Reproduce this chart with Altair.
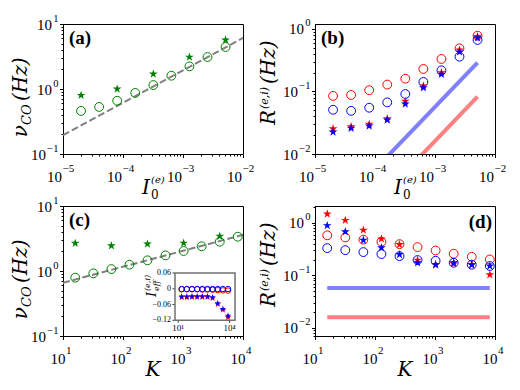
import math
import altair as alt
import pandas as pd

# ---------------- data ----------------
I0 = [2e-5, 4e-5, 8e-5, 1.6e-4, 3.2e-4, 6.4e-4, 1.28e-3, 2.56e-3, 5.12e-3]
a_circles = [0.46, 0.53, 0.66, 0.87, 1.15, 1.60, 2.23, 3.10, 4.43]
a_star_x = [2e-5, 8e-5, 3.2e-4, 1.28e-3, 5.12e-3]
a_stars = [0.80, 1.00, 1.70, 3.10, 5.70]
a_fit_x = [1e-5, 1e-2]
a_fit_y = [0.195, 6.1]

b_red_circles = [0.085, 0.088, 0.105, 0.129, 0.160, 0.229, 0.331, 0.490, 0.780]
b_blue_circles = [0.051, 0.049, 0.055, 0.067, 0.091, 0.142, 0.218, 0.360, 0.667]
b_red_stars = [0.0254, 0.0274, 0.0299, 0.0367, 0.0697, 0.1225, 0.200, 0.460, 0.760]
b_blue_stars = [0.0225, 0.0258, 0.0280, 0.0350, 0.0630, 0.115, 0.188, 0.430, 0.720]
b_line_x = [2e-5, 5.12e-3]
b_blue_line = [0.00114, 0.290]
b_red_line = [0.00032, 0.0826]

K = [16, 32, 64, 128, 256, 512, 1024, 2048, 4096, 8192]
c_circles = [0.79, 0.92, 1.07, 1.25, 1.46, 1.74, 2.03, 2.40, 2.82, 3.37]
c_star_K = [16, 64, 256, 1024, 4096]
c_stars = [2.67, 2.45, 2.60, 2.69, 3.42]
c_fit_x = [10, 1e4]
c_fit_y = [0.66, 3.6]

ins_blue_circles = [-0.001, -0.001, -0.001, -0.001, -0.001, -0.001, -0.001, -0.001, -0.001, -0.001]
ins_red_circles = [-0.002, -0.002, -0.002, -0.002, -0.003, -0.003, -0.004, -0.005, -0.006, -0.007]
ins_blue_stars = [-0.030, -0.030, -0.029, -0.029, -0.029, -0.029, -0.033, -0.055, -0.077, -0.103]
ins_red_stars = [-0.033, -0.033, -0.032, -0.032, -0.032, -0.032, -0.036, -0.059, -0.081, -0.109]
ins_y_ticks = [0.06, 0, -0.06, -0.12]
ins_y_labels = ["0.06", "0", "\u22120.06", "\u22120.12"]
ins_x_ticks = [10, 10000]
ins_x_labels = ["10\u00b9", "10\u2074"]

d_red_circles = [0.58, 0.53, 0.48, 0.436, 0.394, 0.346, 0.298, 0.258, 0.226, 0.201]
d_blue_circles = [0.331, 0.303, 0.278, 0.255, 0.233, 0.196, 0.190, 0.174, 0.160, 0.151]
d_red_stars = [1.48, 1.12, 0.73, 0.497, 0.388, 0.196, 0.160, 0.167, 0.160, 0.103]
d_blue_stars = [0.89, 0.68, 0.469, 0.336, 0.250, 0.174, 0.160, 0.174, 0.160, 0.151]
d_line_x = [16, 8192]
d_blue_line = [0.0575, 0.0575]
d_red_line = [0.016, 0.016]

# ---------------- styling helpers ----------------
W, H = 180, 130
TICKFONT = "Liberation Serif"
SERIF = "DejaVu Serif"
GREEN, RED, BLUE = "#008000", "#ff0000", "#0000ff"
LBLUE, LRED = "#8080ff", "#ff8080"
BASE_SIZE = 15
PAD_NEG, PAD_POS = 13.9, 7.95   # room left for a "−n" or an "n" exponent on y labels


def star_path():
    pts = []
    for k in range(10):
        ang = math.radians(-90 + 36 * k)
        r = 1.0 if k % 2 == 0 else 0.382
        pts.append(f"{r * math.cos(ang):.3f},{r * math.sin(ang):.3f}")
    return "M" + " L".join(pts) + " Z"


STAR = star_path()

EXPO = "round(log(datum.value)/LN10)"
EXP_LABEL = f"replace('' + {EXPO}, '-', '\u2212')"


def decades(lo, hi):
    return [10.0 ** e for e in range(lo, hi + 1)]


def minors(lo, hi, dmin, dmax):
    out = []
    for e in range(lo, hi + 1):
        for m in range(2, 10):
            v = m * 10.0 ** e
            if dmin * 0.999 <= v <= dmax * 1.001:
                out.append(v)
    return out


COMMON = dict(grid=False, title=None, labelOverlap=False, labelFlush=False, offset=0,
              labelFont=TICKFONT, domainColor="black", tickColor="black", labelColor="black")


def ten_axis_x(vals, d):
    return alt.Axis(orient="bottom", values=vals, labelExpr="'10'", tickSize=3.5,
                    labelFontSize=BASE_SIZE, labelAlign="right", labelBaseline="alphabetic",
                    labelPadding=23.5, labelOffset=d, **COMMON)


def exp_axis_x(vals, d):
    return alt.Axis(orient="bottom", values=vals, labelExpr=EXP_LABEL, tickSize=3.5, tickOpacity=0,
                    domain=False, labelFontSize=11, labelAlign="left", labelBaseline="alphabetic",
                    labelPadding=14, labelOffset=d + 0.5, **COMMON)


def ten_axis_y(vals, pad):
    return alt.Axis(orient="left", values=vals, labelExpr="'10'", tickSize=3.5,
                    labelFontSize=BASE_SIZE, labelAlign="right", labelBaseline="middle",
                    labelPadding=pad, **COMMON)


def exp_axis_y(vals):
    return alt.Axis(orient="left", values=vals, labelExpr=EXP_LABEL, tickSize=3.5, tickOpacity=0,
                    domain=False, labelFontSize=10.5, labelAlign="right", labelBaseline="middle",
                    labelPadding=1.5, labelOffset=-6, **COMMON)


def minor_axis(vals, orient):
    return alt.Axis(orient=orient, values=vals, labels=False, tickSize=2, domain=False,
                    grid=False, title=None, offset=0, tickColor="black")


def df(x, y):
    return pd.DataFrame({"x": x, "y": y})


def enc(xsc, ysc, xa=None, ya=None):
    return dict(x=alt.X("x:Q", scale=xsc, axis=xa), y=alt.Y("y:Q", scale=ysc, axis=ya))


def circles(x, y, color, xsc, ysc, size=78, xa=None, ya=None):
    return alt.Chart(df(x, y)).mark_point(shape="circle", filled=False, color=color, size=size,
                                          strokeWidth=1, opacity=1).encode(**enc(xsc, ysc, xa, ya))


def stars(x, y, color, xsc, ysc, size=85, xa=None, ya=None):
    return alt.Chart(df(x, y)).mark_point(shape=STAR, filled=True, color=color, size=size,
                                          strokeWidth=0, opacity=1).encode(**enc(xsc, ysc, xa, ya))


def line(x, y, color, width, xsc, ysc, dash=None, xa=None, ya=None):
    kw = dict(color=color, strokeWidth=width, clip=True)
    if dash:
        kw["strokeDash"] = dash
    return alt.Chart(df(x, y)).mark_line(**kw).encode(**enc(xsc, ysc, xa, ya))


def txt(s, x, y, size, align="left", angle=0, style="italic", weight="normal", font=SERIF):
    return alt.Chart(pd.DataFrame({"t": [s]})).mark_text(
        text=s, align=align, baseline="alphabetic", angle=angle, fontSize=size,
        fontStyle=style, fontWeight=weight, font=font, color="black"
    ).encode(x=alt.value(x), y=alt.value(y))


def first_axes(xdec, ydec, d):
    neg = [v for v in ydec if v < 0.99]
    return dict(xa=ten_axis_x(xdec, d), ya=ten_axis_y(neg, PAD_NEG))


def axis_layers(xsc, ysc, xd, yd, xdec, ydec, d):
    """Invisible layers that only carry minor ticks, exponent labels and the other '10' labels."""
    xlo, xhi = round(math.log10(xd[0])) - 1, round(math.log10(xd[1]))
    ylo, yhi = math.floor(math.log10(yd[0])), math.ceil(math.log10(yd[1]))
    anchor = df([xd[0]], [yd[0]])
    minor = alt.Chart(anchor).mark_point(opacity=0).encode(
        **enc(xsc, ysc, minor_axis(minors(xlo, xhi, *xd), "bottom"),
              minor_axis(minors(ylo, yhi, *yd), "left")))
    expo = alt.Chart(anchor).mark_point(opacity=0).encode(
        **enc(xsc, ysc, exp_axis_x(xdec, d), exp_axis_y(ydec)))
    pos = [v for v in ydec if v > 0.99]
    tens = alt.Chart(anchor).mark_point(opacity=0).encode(
        **enc(xsc, ysc, None, ten_axis_y(pos, PAD_POS)))
    return [minor, expo, tens]


def nu_title():
    return [txt("\u03bd", -36, 101, 20, align="right", angle=270),
            txt("CO", -32, 101, 13, align="left", angle=270),
            txt("(Hz)", -36, 77, 20, align="left", angle=270)]


def r_title():
    return [txt("R", -40, 86, 20, align="right", angle=270),
            txt("(e,i)", -47, 85, 11, align="left", angle=270),
            txt("(Hz)", -40, 60, 20, align="left", angle=270)]


def i0_title():
    return [txt("I", 87, 170, 20, align="right"),
            txt("(e)", 88, 159, 10, align="left"),
            txt("0", 88, 175, 12, align="left", style="normal")]


def k_title():
    return [txt("K", 90, 170, 20, align="center")]


def panel_label(s, right=False):
    if right:
        return txt(s, 177, 22, 19, align="right", style="normal", weight="bold", font=TICKFONT)
    return txt(s, 6, 20, 19, align="left", style="normal", weight="bold", font=TICKFONT)


def logscale(dom):
    return alt.Scale(type="log", domain=dom, nice=False)


# ---------------- panel (a) ----------------
ax_dom = [1e-5, 1e-2]
ay_dom = [0.1, 10]
axs, ays = logscale(ax_dom), logscale(ay_dom)
pa = alt.layer(
    line(a_fit_x, a_fit_y, "gray", 2, axs, ays, dash=[7, 3],
         **first_axes(decades(-5, -2), decades(-1, 1), -1.5)),
    circles(I0, a_circles, GREEN, axs, ays),
    stars(a_star_x, a_stars, GREEN, axs, ays),
    *axis_layers(axs, ays, ax_dom, ay_dom, decades(-5, -2), decades(-1, 1), -1.5),
    panel_label("(a)"), *nu_title(), *i0_title(),
).resolve_axis(x="independent", y="independent").properties(width=W, height=H)

# ---------------- panel (b) ----------------
bx_dom = [1e-5, 1e-2]
by_dom = [0.01, 1.2]
bxs, bys = logscale(bx_dom), logscale(by_dom)
pb = alt.layer(
    line(b_line_x, b_blue_line, LBLUE, 4, bxs, bys,
         **first_axes(decades(-5, -2), decades(-2, 0), -1.5)),
    line(b_line_x, b_red_line, LRED, 4, bxs, bys),
    circles(I0, b_red_circles, RED, bxs, bys),
    circles(I0, b_blue_circles, BLUE, bxs, bys),
    stars(I0, b_red_stars, RED, bxs, bys),
    stars(I0, b_blue_stars, BLUE, bxs, bys),
    *axis_layers(bxs, bys, bx_dom, by_dom, decades(-5, -2), decades(-2, 0), -1.5),
    panel_label("(b)"), *r_title(), *i0_title(),
).resolve_axis(x="independent", y="independent").properties(width=W, height=H)

# ---------------- panel (c) with inset ----------------
cx_dom = [10, 1e4]
cy_dom = [0.1, 10]
cxs, cys = logscale(cx_dom), logscale(cy_dom)
c_main = alt.layer(
    line(c_fit_x, c_fit_y, "gray", 2, cxs, cys, dash=[7, 3],
         **first_axes(decades(1, 4), decades(-1, 1), 2)),
    circles(K, c_circles, GREEN, cxs, cys),
    stars(c_star_K, c_stars, GREEN, cxs, cys),
    *axis_layers(cxs, cys, cx_dom, cy_dom, decades(1, 4), decades(-1, 1), 2),
    panel_label("(c)"), *nu_title(), *k_title(),
    txt("I", 93, 86, 12, align="right", angle=270),
    txt("eff", 96, 85, 8, align="left", angle=270),
    txt("(e,i)", 87, 85, 8, align="left", angle=270),
).resolve_axis(x="independent", y="independent")

INS_L, INS_R, INS_T, INS_B = 112, 172, 67, 114.3
ins_x_dom = [10 ** 0.813, 10 ** 4.32]
ins_y_dom = [-0.12, 0.06]
ixs = alt.Scale(type="log", domain=ins_x_dom, range=[INS_L, INS_R], nice=False)
iys = alt.Scale(domain=ins_y_dom, range=[INS_B, INS_T], nice=False, zero=False)
frame = pd.DataFrame({"x": [ins_x_dom[0]], "x2": [ins_x_dom[1]], "y": [ins_y_dom[0]], "y2": [ins_y_dom[1]]})
ytk = pd.DataFrame({"v": ins_y_ticks, "lab": ins_y_labels})
xtk = pd.DataFrame({"v": ins_x_ticks, "lab": ins_x_labels})
c_inset = alt.layer(
    alt.Chart(frame).mark_rect(fill="white", stroke="#707070", strokeWidth=1.5).encode(
        x=alt.X("x:Q", scale=ixs, axis=None), x2="x2",
        y=alt.Y("y:Q", scale=iys, axis=None), y2="y2"),
    alt.Chart(ytk).mark_rule(color="black", strokeWidth=0.8).encode(
        y=alt.Y("v:Q", scale=iys, axis=None), x=alt.value(INS_L - 2.5), x2=alt.value(INS_L - 0.7)),
    alt.Chart(ytk).mark_text(align="right", baseline="middle", fontSize=8, font=TICKFONT, color="black").encode(
        y=alt.Y("v:Q", scale=iys, axis=None), x=alt.value(INS_L - 4), text="lab:N"),
    alt.Chart(xtk).mark_rule(color="black", strokeWidth=0.8).encode(
        x=alt.X("v:Q", scale=ixs, axis=None), y=alt.value(INS_B + 0.7), y2=alt.value(INS_B + 2.5)),
    alt.Chart(xtk).mark_text(align="center", baseline="top", fontSize=9, font=TICKFONT, color="black").encode(
        x=alt.X("v:Q", scale=ixs, axis=None), y=alt.value(INS_B + 4), text="lab:N"),
    circles(K, ins_red_circles, RED, ixs, iys, size=30),
    circles(K, ins_blue_circles, BLUE, ixs, iys, size=30),
    stars(K, ins_red_stars, RED, ixs, iys, size=48),
    stars(K, ins_blue_stars, BLUE, ixs, iys, size=48),
)
pc = alt.layer(c_main, c_inset).resolve_scale(x="independent", y="independent").properties(width=W, height=H)

# ---------------- panel (d) ----------------
dx_dom = [10, 1e4]
dy_dom = [0.007, 2.1]
dxs, dys = logscale(dx_dom), logscale(dy_dom)
pd_ = alt.layer(
    line(d_line_x, d_blue_line, LBLUE, 4, dxs, dys,
         **first_axes(decades(1, 4), decades(-2, 0), 2)),
    line(d_line_x, d_red_line, LRED, 4, dxs, dys),
    circles(K, d_red_circles, RED, dxs, dys),
    circles(K, d_blue_circles, BLUE, dxs, dys),
    stars(K, d_red_stars, RED, dxs, dys),
    stars(K, d_blue_stars, BLUE, dxs, dys),
    *axis_layers(dxs, dys, dx_dom, dy_dom, decades(1, 4), decades(-2, 0), 2),
    panel_label("(d)", right=True), *r_title(), *k_title(),
).resolve_axis(x="independent", y="independent").properties(width=W, height=H)

chart = alt.concat(
    pa, pb, pc, pd_, columns=2, spacing={"row": 52, "column": 72}, bounds="flush"
).properties(
    padding={"left": 2, "top": 4, "right": 5, "bottom": 5}
).configure_view(
    stroke="black", strokeWidth=1
).configure_axis(
    grid=False, domainColor="black", tickColor="black", labelColor="black"
)

chart.save("out.html", embed_options={"renderer": "svg", "actions": False})
